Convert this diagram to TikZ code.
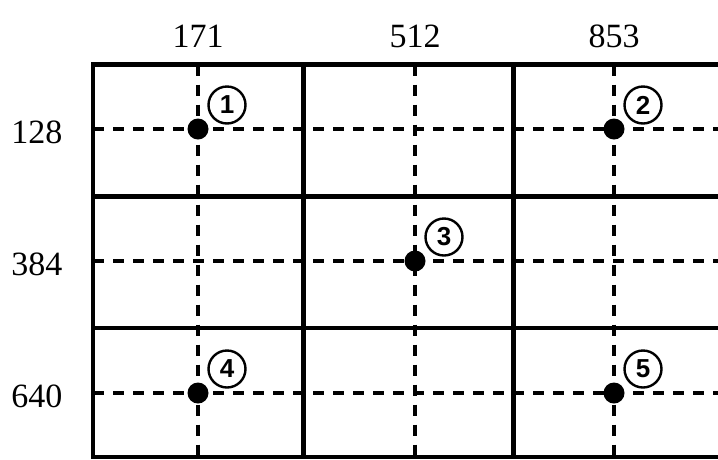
\documentclass[tikz,border=0pt]{standalone}
\usepackage{fontspec}
\setmainfont{Liberation Serif}
\newfontfamily\numsans{Liberation Sans}
\begin{document}
\begin{tikzpicture}[x=1pt,y=-1pt,
  gridline/.style={line width=4.6pt},
  guide/.style={line width=3.8pt, dash pattern=on 11pt off 9pt},
  dot/.style={circle, fill=black, minimum size=21pt, inner sep=0pt},
  tag/.style={circle, draw, line width=2.4pt, minimum size=37pt, inner sep=0pt, font=\numsans\bfseries\fontsize{26}{26}\selectfont},
  lbl/.style={font=\fontsize{34}{34}\selectfont, inner sep=0pt}]
\useasboundingbox (0,0) rectangle (718,459);
\begin{scope}
\clip (0,0) rectangle (718,459);
% dashed guides
\foreach \x in {198,415,614} \draw[guide] (\x,64.5) -- (\x,457.5);
\foreach \y in {129,261,393} \draw[guide] (93,\y) -- (725,\y);
% solid grid
\draw[gridline] (93,64.5) rectangle (725,457);
\foreach \x in {303.5,513.5} \draw[gridline] (\x,64.5) -- (\x,457);
\foreach \y in {196.5,328} \draw[gridline] (93,\y) -- (725,\y);
\end{scope}
% labels
\node[lbl] (c1) at (198,36) {171};
\node[lbl] (c2) at (415,36) {512};
\node[lbl] (c3) at (614,36) {853};
\node[lbl] (r1) at (37,132) {128};
\node[lbl] (r2) at (37,264) {384};
\node[lbl] (r3) at (37,396) {640};
% points
\node[dot] (p1) at (198,129) {};
\node[dot] (p2) at (614,129) {};
\node[dot] (p3) at (415,261) {};
\node[dot] (p4) at (198,393) {};
\node[dot] (p5) at (614,393) {};
\foreach \i in {1,...,5}
  \node[tag, fill=white] (t\i) at ([xshift=29pt,yshift=24pt]p\i.center) {\i};
\end{tikzpicture}
\end{document}
